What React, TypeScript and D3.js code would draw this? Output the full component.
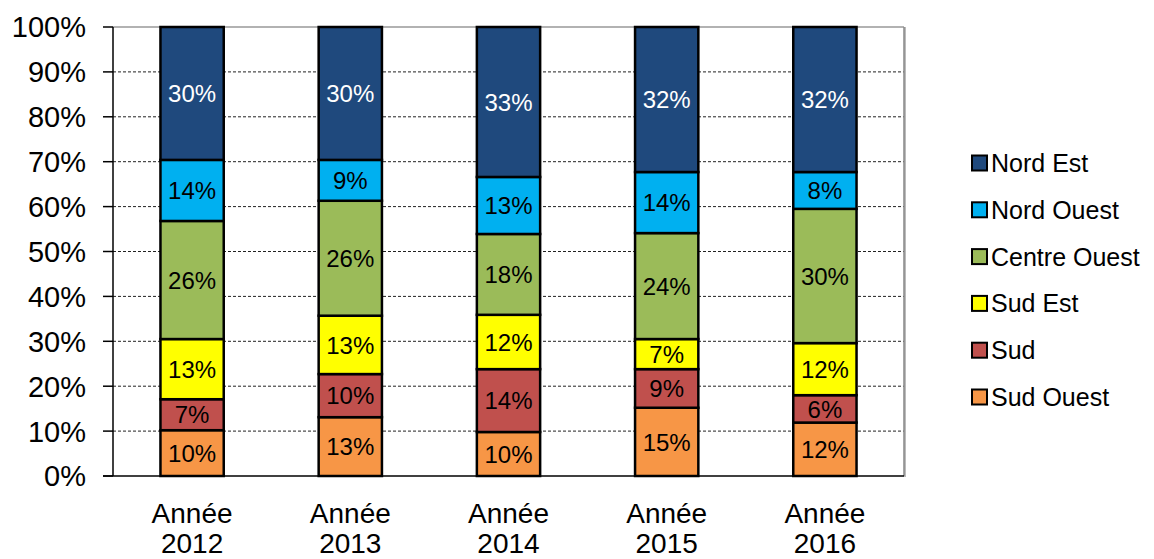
import React from "react";
import * as d3 from "d3";

// shares per region (percent)
const years = ["2012", "2013", "2014", "2015", "2016"];
const series = ["Sud Ouest", "Sud", "Sud Est", "Centre Ouest", "Nord Ouest", "Nord Est"];
const sudOuest = [10.2, 13.1, 9.8, 15.2, 11.9];
const sud = [6.9, 9.6, 14.0, 8.6, 6.1];
const sudEst = [13.4, 13.0, 12.1, 6.7, 11.6];
const centreOuest = [26.3, 25.6, 18.0, 23.6, 29.9];
const nordOuest = [13.6, 9.1, 12.7, 13.6, 8.2];
const nordEst = [29.6, 29.6, 33.4, 32.3, 32.3];
const colors = ["#F79646", "#C0504D", "#FFFF00", "#9BBB59", "#00B0F0", "#1F497D"];
const yTicks = [0, 10, 20, 30, 40, 50, 60, 70, 80, 90, 100];

const W = 1154;
const H = 559;
const margin = { left: 113, top: 27, right: 250, bottom: 83 };
const FONT = "'Liberation Sans', Arial, sans-serif";

export default function App() {
  const values = [sudOuest, sud, sudEst, centreOuest, nordOuest, nordEst];
  const table = years.map((y, i) => {
    const row: any = { year: y };
    series.forEach((s, j) => (row[s] = values[j][i]));
    return row;
  });
  const stacked = d3.stack().keys(series)(table);

  const x = d3
    .scaleBand()
    .domain(years)
    .range([margin.left, W - margin.right])
    .paddingInner(0.6)
    .paddingOuter(0.3);
  const y = d3
    .scaleLinear()
    .domain([0, 100])
    .range([H - margin.bottom, margin.top]);
  const color = d3.scaleOrdinal<string, string>().domain(series).range(colors);
  const fmt = (v: number) => `${Math.round(v)}%`;

  const x0 = margin.left;
  const x1 = W - margin.right;
  const legendOrder = series.slice().reverse();
  const cx = (yr: string) => (x(yr) as number) + x.bandwidth() / 2;

  return (
    <svg
      width={W}
      height={H}
      style={{ position: "absolute", left: 0, top: 0, background: "#fff" }}
      fontFamily={FONT}
    >
      {/* gridlines */}
      {yTicks.map((t) =>
        t === 0 ? null : (
          <line
            key={"g" + t}
            x1={x0}
            x2={x1}
            y1={y(t)}
            y2={y(t)}
            stroke={t === 100 ? "#999" : "#222"}
            strokeWidth={t === 100 ? 1.5 : 1}
            strokeDasharray={t === 100 ? undefined : "3,2"}
          />
        )
      )}
      {/* right border */}
      <line x1={x1 + 1} x2={x1 + 1} y1={y(100)} y2={y(0) + 1} stroke="#bbb" strokeWidth={2} />
      <line x1={x1} x2={x1} y1={y(100)} y2={y(0)} stroke="#888" strokeWidth={1.5} />

      {/* bars */}
      {stacked.map((layer) => (
        <g key={layer.key}>
          {layer.map((d, i) => {
            const yr = years[i];
            const top = y(d[1]);
            const bot = y(d[0]);
            return (
              <rect
                key={yr}
                x={x(yr)}
                y={top}
                width={x.bandwidth()}
                height={bot - top}
                fill={color(layer.key)}
                stroke="#000"
                strokeWidth={2.5}
              />
            );
          })}
        </g>
      ))}
      {stacked.map((layer) =>
        layer.map((d, i) => {
          const yr = years[i];
          return (
            <text
              key={layer.key + yr}
              x={cx(yr)}
              y={(y(d[0]) + y(d[1])) / 2}
              dy="0.36em"
              textAnchor="middle"
              fontSize={24}
              fill={layer.key === "Nord Est" ? "#fff" : "#000"}
            >
              {fmt(d[1] - d[0])}
            </text>
          );
        })
      )}

      {/* y axis */}
      <line x1={x0} x2={x0} y1={y(100)} y2={y(0)} stroke="#000" strokeWidth={1.5} />
      <line x1={x0 - 10} x2={x1} y1={y(0)} y2={y(0)} stroke="#000" strokeWidth={1.5} />
      {yTicks.map((t) => (
        <g key={"t" + t}>
          <line x1={x0 - 10} x2={x0} y1={y(t)} y2={y(t)} stroke="#000" strokeWidth={1.5} />
          <text x={86} y={y(t)} dy="0.36em" textAnchor="end" fontSize={29} fill="#000">
            {t + "%"}
          </text>
        </g>
      ))}

      {/* x axis labels */}
      {years.map((yr) => (
        <g key={"x" + yr}>
          <text x={cx(yr)} y={523} textAnchor="middle" fontSize={28} fill="#000">
            Année
          </text>
          <text x={cx(yr)} y={553} textAnchor="middle" fontSize={28} fill="#000">
            {yr}
          </text>
        </g>
      ))}

      {/* legend */}
      {legendOrder.map((s, i) => {
        const cy = 163 + i * 46.8;
        return (
          <g key={"l" + s}>
            <rect x={972} y={cy - 7.5} width={15} height={15} fill={color(s)} stroke="#000" strokeWidth={2} />
            <text x={991} y={cy} dy="0.36em" fontSize={25} fill="#000">
              {s}
            </text>
          </g>
        );
      })}
    </svg>
  );
}
